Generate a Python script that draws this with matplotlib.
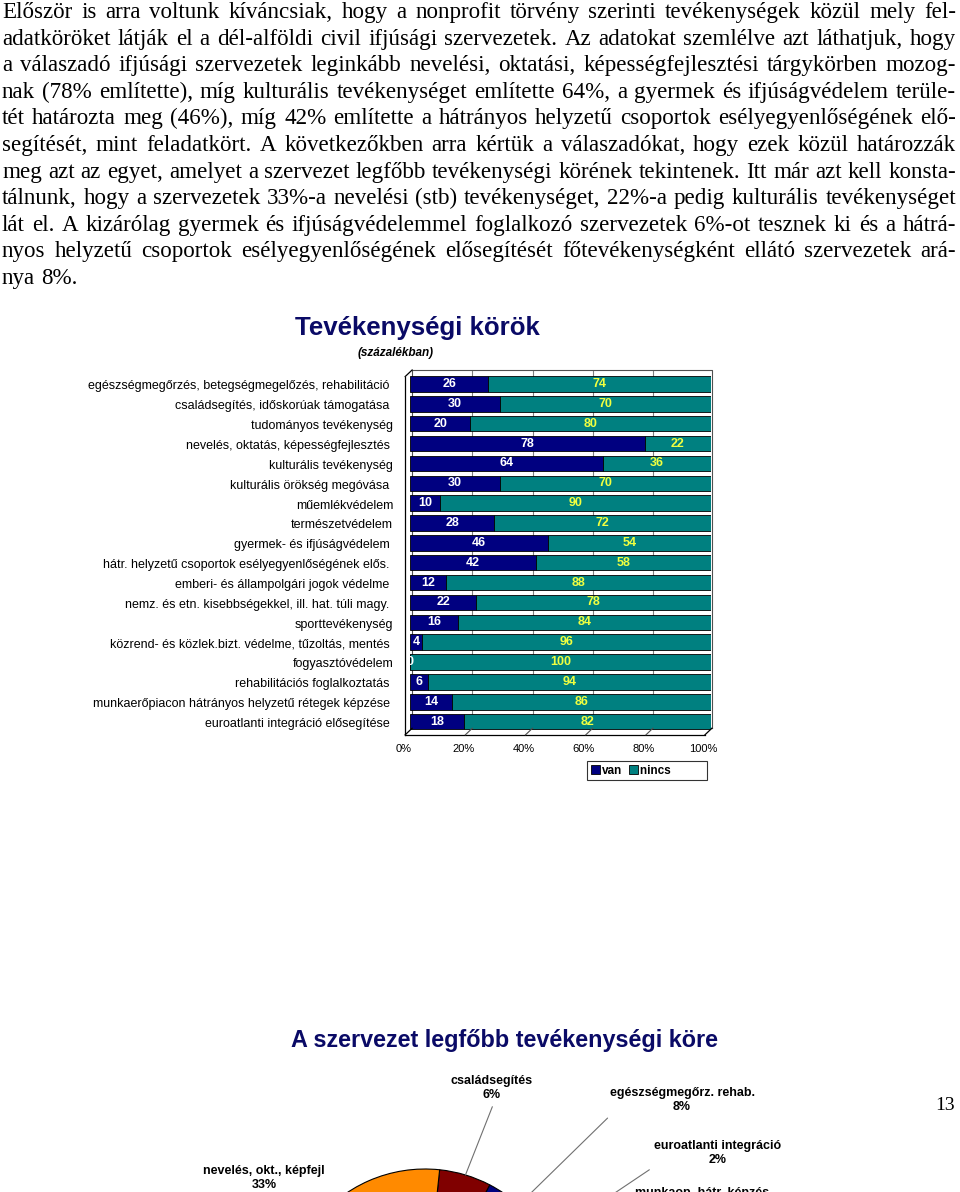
import matplotlib
matplotlib.use('Agg')
import numpy as np
import matplotlib.pyplot as plt
from matplotlib.patches import Patch

W, H = 960, 1192

# paragraph above the charts (one entry per printed line)
para_lines = [
    "Először is arra voltunk kíváncsiak, hogy a nonprofit törvény szerinti tevékenységek közül mely fel-",
    "adatköröket látják el a dél-alföldi civil ifjúsági szervezetek. Az adatokat szemlélve azt láthatjuk, hogy",
    "a válaszadó ifjúsági szervezetek leginkább nevelési, oktatási, képességfejlesztési tárgykörben mozog-",
    "nak (78% említette), míg kulturális tevékenységet említette 64%, a gyermek és ifjúságvédelem terüle-",
    "tét határozta meg (46%), míg 42% említette a hátrányos helyzetű csoportok esélyegyenlőségének elő-",
    "segítését, mint feladatkört. A következőkben arra kértük a válaszadókat, hogy ezek közül határozzák",
    "meg azt az egyet, amelyet a szervezet legfőbb tevékenységi körének tekintenek. Itt már azt kell konsta-",
    "tálnunk, hogy a szervezetek 33%-a nevelési (stb) tevékenységet, 22%-a pedig kulturális tevékenységet",
    "lát el. A kizárólag gyermek és ifjúságvédelemmel foglalkozó szervezetek 6%-ot tesznek ki és a hátrá-",
    "nyos helyzetű csoportok esélyegyenlőségének elősegítését főtevékenységként ellátó szervezetek ará-",
    "nya 8%.",
]

# bar chart: "Tevékenységi körök"
categories = [
    "egészségmegőrzés, betegségmegelőzés, rehabilitáció ",
    "családsegítés, időskorúak támogatása ",
    "tudományos tevékenység",
    "nevelés, oktatás, képességfejlesztés ",
    "kulturális tevékenység",
    "kulturális örökség megóvása ",
    "műemlékvédelem",
    "természetvédelem",
    "gyermek- és ifjúságvédelem ",
    "hátr. helyzetű csoportok esélyegyenlőségének elős. ",
    "emberi- és állampolgári jogok védelme ",
    "nemz. és etn. kisebbségekkel, ill. hat. túli magy. ",
    "sporttevékenység",
    "közrend- és közlek.bizt. védelme, tűzoltás, mentés ",
    "fogyasztóvédelem",
    "rehabilitációs foglalkoztatás ",
    "munkaerőpiacon hátrányos helyzetű rétegek képzése ",
    "euroatlanti integráció elősegítése ",
]
van = [26, 30, 20, 78, 64, 30, 10, 28, 46, 42, 12, 22, 16, 4, 0, 6, 14, 18]
nincs = [74, 70, 80, 22, 36, 70, 90, 72, 54, 58, 88, 78, 84, 96, 100, 94, 86, 82]
x_ticks = [0, 20, 40, 60, 80, 100]
x_ticklabels = ["0%", "20%", "40%", "60%", "80%", "100%"]

# pie chart: "A szervezet legfőbb tevékenységi köre" (only the top is on the page)
pie_labels = ["családsegítés", "egészségmegőrz. rehab.", "euroatlanti integráció",
              "munkaop. hátr. képzés", "hátr. helyzetűek", "gyermek- és ifjúságvéd.",
              "kulturális", "egyéb", "nevelés, okt., képfejl"]
pie_values = [6, 8, 2, 4, 8, 6, 22, 11, 33]
pie_colors = ["#800000", "#000080", "#00c0c0", "#9999ff", "#993366",
              "#ffffcc", "#ccffff", "#660066", "#ff8a00"]

NAVY = "#000080"
TEAL = "#008080"
TITLE = "#0a0a66"


def fx(px):
    return px / W


def fy(py):
    return 1 - py / H


fig = plt.figure(figsize=(W / 100, H / 100), dpi=100)
fig.patch.set_facecolor("white")
renderer = fig.canvas.get_renderer()

# justified paragraph; font size chosen so the longest line just fits
serif = "Liberation Serif"
left, right = 2, 956
probe = fig.text(0, 0, "", fontsize=10, family=serif)
widest = 0
for line in para_lines:
    probe.set_text(line)
    widest = max(widest, probe.get_window_extent(renderer).width)
probe.remove()
psize = 10 * (right - left - 4) / widest

sp = fig.text(0, 0, "x x", fontsize=psize, family=serif)
nsp = fig.text(0, 0, "xx", fontsize=psize, family=serif)
space_w = sp.get_window_extent(renderer).width - nsp.get_window_extent(renderer).width
sp.remove()
nsp.remove()
for k, line in enumerate(para_lines):
    base = 18 + 26.6 * k
    words = line.split(" ")
    texts = [fig.text(0, fy(base), w, fontsize=psize, family=serif, va="baseline")
             for w in words]
    widths = [t.get_window_extent(renderer).width for t in texts]
    if k == len(para_lines) - 1:
        gap = space_w
    else:
        gap = (right - left - sum(widths)) / (len(words) - 1)
    x = left
    for t, w in zip(texts, widths):
        t.set_x(fx(x))
        x += w + gap

# bar chart titles
fig.text(fx(417), fy(328), "Tevékenységi körök", fontsize=18.6, fontweight="bold",
         color=TITLE, ha="center", va="center", family="Liberation Sans")
fig.text(fx(396), fy(353), "(százalékban)", fontsize=8.5, fontweight="bold",
         style="italic", ha="center", va="center", family="Liberation Sans")

# bar axes: 0..100 -> px 410..711, rows -0.70..17.67 -> px 370..735
ax = fig.add_axes([fx(410), fy(735), (711 - 410) / W, (735 - 370) / H])
ax.set_xlim(0, 100)
ax.set_ylim(17.67, -0.70)
ax.axis("off")

y = list(range(len(categories)))
ax.barh(y, van, height=0.78, color=NAVY, edgecolor="black", linewidth=0.6, zorder=3)
ax.barh(y, nincs, left=van, height=0.78, color=TEAL, edgecolor="black",
        linewidth=0.6, zorder=3)

# pseudo 3D frame (back wall, floor, left side)
dx, dy = 2.3, 0.33
bx0, bx1, by0, by1 = 0.7, 100.3, -0.70, 17.33
frame = dict(color="#505050", linewidth=0.8, clip_on=False, zorder=2)
ax.plot([bx0, bx1, bx1], [by0, by0, by1], **frame)
ax.plot([bx0, bx0], [by0, by1], **frame)
ax.plot([bx0, bx1], [by1, by1], **frame)
edge = dict(color="black", lw=0.9, clip_on=False, zorder=4)
ax.plot([bx0 - dx, bx0 - dx], [by0 + dy, by1 + dy], **edge)
ax.plot([bx0 - dx, bx0], [by0 + dy, by0], **edge)
ax.plot([bx0 - dx, bx1 - dx], [by1 + dy, by1 + dy], **edge)
ax.plot([bx0 - dx, bx0], [by1 + dy, by1], **edge)
ax.plot([bx1 - dx, bx1], [by1 + dy, by1], **edge)
for t in x_ticks[1:-1]:
    ax.plot([t + bx0, t + bx0], [by0, by1], color="#808080", lw=0.8, zorder=1)
    ax.plot([t + bx0 - dx, t + bx0], [by1 + dy, by1], color="#505050", lw=0.8,
            clip_on=False, zorder=4)
for t, lab in zip(x_ticks, x_ticklabels):
    ax.text(t * (bx1 - bx0) / 100 + bx0 - dx - 0.5, 18.38, lab, ha="center", va="center",
            fontsize=8, family="Liberation Sans", clip_on=False)

# category labels
for i, lab in enumerate(categories):
    ax.text(-5.6, i + 0.12, lab, ha="right", va="center", fontsize=9,
            family="Liberation Sans", clip_on=False)

# value labels
for i, (a, b) in enumerate(zip(van, nincs)):
    ax.text(a / 2, i, str(a), ha="center", va="center", color="white",
            fontsize=9, fontweight="bold", family="Liberation Sans", zorder=5, clip_on=True)
    ax.text(a + b / 2, i, str(b), ha="center", va="center", color="#f0ff40",
            fontsize=9, fontweight="bold", family="Liberation Sans", zorder=5)

handles = [Patch(facecolor=NAVY, edgecolor="black", linewidth=0.6, label="van"),
           Patch(facecolor=TEAL, edgecolor="black", linewidth=0.6, label="nincs" + " " * 10)]
leg = fig.legend(handles=handles, loc="center left", bbox_to_anchor=(fx(587), fy(770.5)),
                 bbox_transform=fig.transFigure, ncol=2, frameon=True, fancybox=False,
                 edgecolor="black", handlelength=0.8, handleheight=0.8,
                 handletextpad=0.2, columnspacing=0.5, borderpad=0.3, borderaxespad=0,
                 prop={"family": "Liberation Sans", "weight": "bold", "size": 8.5})
leg.get_frame().set_linewidth(0.8)

# pie chart
fig.text(fx(505), fy(1041), "A szervezet legfőbb tevékenységi köre", fontsize=16.8,
         fontweight="bold", color=TITLE, ha="center", va="center", family="Liberation Sans")

R = 140
cx, cy = 425, 1309
axp = fig.add_axes([fx(cx - R), fy(cy + R), 2 * R / W, 2 * R / H])
wedges, _ = axp.pie(pie_values, colors=pie_colors, startangle=84, counterclock=False,
                    radius=1, wedgeprops=dict(edgecolor="black", linewidth=0.8))
axp.set_aspect("auto")
axp.set_xlim(-1, 1)
axp.set_ylim(-1, 1)
axp.axis("off")

pie_text = {
    0: ((492, 1088), (0.53, 0.0)),
    1: ((682, 1100), (0.02, 0.0)),
    2: ((718, 1153), (0.0, 0.0)),
    3: ((702, 1200), (0.0, 0.0)),
    8: ((264, 1178), None),
}
for idx, ((px, py), rel) in pie_text.items():
    w = wedges[idx]
    mid = np.deg2rad((w.theta1 + w.theta2) / 2)
    lab = f"{pie_labels[idx]}\n{pie_values[idx]}%"
    pos = ((px - cx) / R, (cy - py) / R)
    if rel is None:
        axp.text(*pos, lab, ha="center", va="center", fontsize=9, fontweight="bold",
                 family="Liberation Sans", linespacing=1.3, clip_on=False)
    else:
        axp.annotate(lab, xy=(np.cos(mid), np.sin(mid)), xytext=pos, ha="center",
                     va="center", fontsize=9, fontweight="bold", family="Liberation Sans",
                     linespacing=1.3, annotation_clip=False,
                     arrowprops=dict(arrowstyle="-", color="#707070", lw=0.8,
                                     relpos=rel, shrinkA=2, shrinkB=0))

# page number
fig.text(fx(945), fy(1106), "13", fontsize=14, family=serif, ha="center", va="center")

fig.savefig("out.png", dpi=100, facecolor="white")
